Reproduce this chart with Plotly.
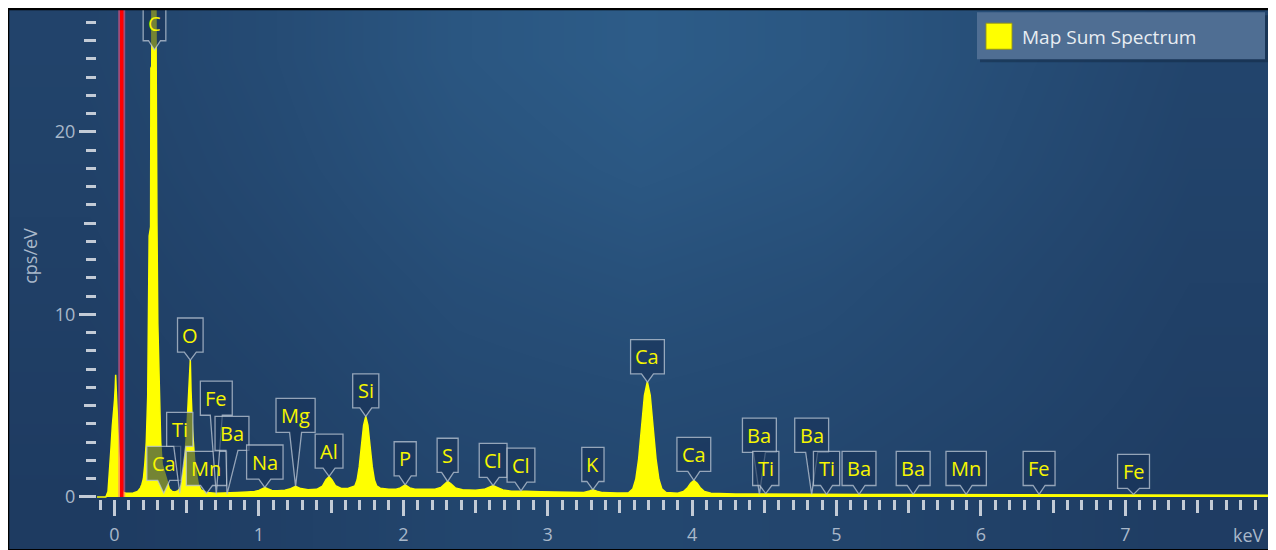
import plotly.graph_objects as go

# ---------------- data ----------------
ENERGY_KEV = [
    -0.121, -0.06, -0.045, -0.035, -0.025, -0.015, -0.005, 0.0, 0.005, 0.008, 0.012, 0.018, 0.025,
    0.032, 0.04, 0.05, 0.06, 0.08, 0.10, 0.13, 0.16, 0.18, 0.19, 0.20, 0.21, 0.22, 0.23, 0.235,
    0.24, 0.25, 0.252, 0.258, 0.26, 0.285, 0.288, 0.292, 0.294, 0.30, 0.31, 0.32, 0.33, 0.345,
    0.36, 0.38, 0.40, 0.42, 0.44, 0.452, 0.465, 0.483, 0.50, 0.511, 0.52, 0.525, 0.53, 0.541,
    0.557, 0.58, 0.60, 0.64, 0.70, 0.78, 0.85, 0.92, 0.97, 1.00, 1.02, 1.041, 1.06, 1.09, 1.13,
    1.18, 1.22, 1.254, 1.29, 1.34, 1.40, 1.44, 1.465, 1.486, 1.505, 1.53, 1.57, 1.62, 1.665,
    1.68, 1.695, 1.71, 1.725, 1.74, 1.755, 1.77, 1.785, 1.80, 1.815, 1.84, 1.90, 1.95, 1.98,
    2.013, 2.045, 2.08, 2.15, 2.22, 2.26, 2.285, 2.307, 2.33, 2.36, 2.41, 2.50, 2.56, 2.595,
    2.622, 2.65, 2.69, 2.75, 2.79, 2.815, 2.85, 2.95, 3.05, 3.15, 3.25, 3.29, 3.313, 3.34, 3.38,
    3.48, 3.56, 3.59, 3.61, 3.63, 3.65, 3.67, 3.69, 3.71, 3.73, 3.75, 3.77, 3.79, 3.82, 3.90,
    3.94, 3.97, 3.99, 4.012, 4.035, 4.055, 4.085, 4.13, 4.30, 4.47, 4.51, 4.60, 4.83, 4.93,
    5.20, 5.60, 6.00, 6.40, 6.80, 7.06, 7.50, 8.002,
]
CPS_PER_EV = [
    0.0, 0.0, 0.3, 1.3, 2.6, 3.9, 4.7, 5.3, 6.0, 6.7, 5.9, 4.6, 3.5,
    2.2, 1.1, 0.5, 0.25, 0.2, 0.2, 0.22, 0.3, 0.5, 0.7, 1.0, 1.8, 3.0, 5.5, 8.5,
    14.3, 14.8, 23.5, 23.6, 30.0, 30.0, 23.5, 23.5, 15.0, 9.5, 5.5, 3.0, 1.8, 1.35,
    0.9, 0.45, 0.3, 0.28, 0.35, 0.45, 0.7, 1.8, 3.6, 5.4, 6.9, 7.5, 5.8, 3.6,
    1.8, 0.7, 0.38, 0.25, 0.2, 0.2, 0.24, 0.27, 0.3, 0.36, 0.45, 0.52, 0.45, 0.36, 0.34,
    0.37, 0.46, 0.58, 0.46, 0.4, 0.42, 0.6, 0.95, 1.12, 0.95, 0.62, 0.47, 0.48, 0.61,
    0.93, 1.66, 2.78, 3.92, 4.42, 3.92, 2.78, 1.66, 0.93, 0.61, 0.48, 0.42, 0.42, 0.5,
    0.66, 0.5, 0.42, 0.4, 0.42, 0.52, 0.72, 0.85, 0.72, 0.5, 0.4, 0.37, 0.42, 0.54,
    0.62, 0.52, 0.38, 0.32, 0.32, 0.35, 0.31, 0.29, 0.27, 0.25, 0.25, 0.33, 0.4, 0.32, 0.24,
    0.22, 0.23, 0.45, 0.97, 2.09, 3.82, 5.57, 6.32, 5.57, 3.82, 2.09, 0.97, 0.45, 0.24, 0.2,
    0.3, 0.52, 0.75, 0.9, 0.75, 0.52, 0.3, 0.2, 0.17, 0.17, 0.18, 0.16, 0.15, 0.15,
    0.14, 0.13, 0.13, 0.14, 0.12, 0.12, 0.11, 0.1,
]

LABEL_NAMES = ["C", "O", "Ca", "Ti", "Mn", "Fe", "Ba", "Na", "Mg", "Al", "Si", "P", "S", "Cl",
               "Cl", "K", "Ca", "Ca", "Ba", "Ti", "Ba", "Ti", "Ba", "Ba", "Mn", "Fe", "Fe"]
LABEL_KEV = [0.277, 0.525, 0.341, 0.452, 0.637, 0.705, 0.779, 1.041, 1.254, 1.486, 1.740, 2.013,
             2.307, 2.622, 2.815, 3.313, 3.691, 4.012, 4.466, 4.510, 4.828, 4.931, 5.156, 5.531,
             5.898, 6.403, 7.057]
LABEL_TIP_CPS = [24.5, 7.5, 0.21, 0.21, 0.19, 0.14, 0.14, 0.52, 0.58, 1.13, 4.42, 0.67, 0.85,
                 0.62, 0.34, 0.40, 6.29, 0.91, 0.14, 0.19, 0.14, 0.14, 0.14, 0.14, 0.14, 0.14, 0.14]
LABEL_BOX_CPS = [25.0, 7.94, 0.91, 2.77, 0.63, 4.48, 2.55, 0.98, 3.54, 1.58, 4.88, 1.16, 1.35,
                 1.07, 0.81, 0.85, 6.75, 1.40, 2.45, 0.63, 2.45, 0.63, 0.63, 0.63, 0.63, 0.63, 0.47]

MARKER_KEV = [0.05]
X_TICKS = [0, 1, 2, 3, 4, 5, 6, 7]
Y_TICKS = [0, 10, 20]
SERIES_NAME = "Map Sum Spectrum"

# ---------------- layout geometry ----------------
# target positions are given in photo pixels; the page body adds an 8px margin and the
# photo comes out vertically compressed by S, so vertical positions are pre-stretched.
OFF = 8
S = 0.981
W, H = 1276 - OFF, 552


def px(wx):
    return (wx - OFF) / W


def vy(ry):
    return ry / S


def py(ry):
    return 1 - (vy(ry) - OFF) / H


def vlen(n):
    return n / S


PL, PR, PB = 97, 1271, 498
X0_PX, PX_PER_KEV = 114.5, 144.4
Y0_PX, PX_PER_CPS = 495.5, 18.2
XR = [(PL - X0_PX) / PX_PER_KEV, (PR - X0_PX) / PX_PER_KEV]
YR = [(Y0_PX - PB) / PX_PER_CPS, (vy(Y0_PX) - OFF) / vlen(PX_PER_CPS)]
KEV_PER_PX = 1 / PX_PER_KEV
CPS_PER_PX = 1 / PX_PER_CPS

TICK_COL = "#c3cbd6"
LAB_COL = "#a9b8ca"
FONT = "Open Sans"
YEL = "#ffff00"

LABEL_FONT = 20
CHAR_W = {"C": 11.4, "O": 14, "P": 10.9, "S": 9.9, "K": 11, "a": 10, "e": 10.1, "i": 4.6,
          "l": 4.6, "n": 11, "g": 9.9, "M": 16.3, "F": 9.6, "B": 11.5, "T": 10, "N": 13.8,
          "A": 11.4}
BOX_SHIFT_PX = {6: 5}

fig = go.Figure()

# background gradient
BG_Z = [
    [0.05, 0.15, 0.28, 0.33, 0.28, 0.18, 0.08],
    [0.10, 0.22, 0.38, 0.43, 0.38, 0.27, 0.13],
    [0.15, 0.30, 0.48, 0.56, 0.48, 0.33, 0.18],
    [0.20, 0.38, 0.60, 0.72, 0.62, 0.42, 0.23],
    [0.24, 0.43, 0.68, 0.82, 0.70, 0.47, 0.27],
]
fig.add_trace(go.Heatmap(z=BG_Z, x=list(range(7)), y=list(range(5)), zsmooth="best",
                         colorscale=[[0, "rgb(30,59,97)"], [1, "rgb(45,92,136)"]],
                         showscale=False, hoverinfo="skip", xaxis="x", yaxis="y"))

# spectrum
fig.add_trace(go.Scatter(x=ENERGY_KEV, y=CPS_PER_EV, mode="lines", fill="tozeroy",
                         fillcolor=YEL, line=dict(color=YEL, width=1.5),
                         name=SERIES_NAME, hoverinfo="skip", xaxis="x2", yaxis="y2"))

# red marker line
for mk in MARKER_KEV:
    fig.add_trace(go.Scatter(x=[mk, mk], y=[0, YR[1]], mode="lines",
                             line=dict(color="rgba(255,90,140,0.55)", width=7),
                             hoverinfo="skip", xaxis="x2", yaxis="y2"))
    fig.add_trace(go.Scatter(x=[mk, mk], y=[0, YR[1]], mode="lines",
                             line=dict(color="#ff0000", width=3.5),
                             hoverinfo="skip", xaxis="x2", yaxis="y2"))

# dummy traces for overlay (mid tick) axes
fig.add_trace(go.Scatter(x=[], y=[], xaxis="x3", yaxis="y2", hoverinfo="skip"))
fig.add_trace(go.Scatter(x=[], y=[], xaxis="x2", yaxis="y3", hoverinfo="skip"))

shapes = []
annotations = []

# peak labels (callout boxes)
BOX_H = 34
for i, (nm, e, tip, yb) in enumerate(zip(LABEL_NAMES, LABEL_KEV, LABEL_TIP_CPS, LABEL_BOX_CPS)):
    wpx = sum(CHAR_W.get(c, 10) for c in nm) * LABEL_FONT / 18 + 10
    cx = e + BOX_SHIFT_PX.get(i, 0) * KEV_PER_PX
    hw = wpx / 2 * KEV_PER_PX
    ph = 6 * KEV_PER_PX
    yt = yb + BOX_H * CPS_PER_PX
    path = (f"M {cx-hw},{yb} L {cx-ph},{yb} L {e},{tip} "
            f"L {cx+ph},{yb} L {cx+hw},{yb} L {cx+hw},{yt} L {cx-hw},{yt} Z")
    shapes.append(dict(type="path", path=path, xref="x2", yref="y2", layer="above",
                       fillcolor="rgba(24,50,86,0.6)",
                       line=dict(color="rgba(190,200,214,0.75)", width=1.3)))
    annotations.append(dict(x=cx, y=yb + BOX_H / 2 * CPS_PER_PX, xref="x2", yref="y2",
                            text=nm, showarrow=False, xanchor="center", yanchor="middle",
                            font=dict(family=FONT, size=LABEL_FONT, color="#f6f600")))

# outer black frame
shapes.append(dict(type="rect", xref="paper", yref="paper", x0=px(OFF), x1=px(1271),
                   y0=py(548.5), y1=1 - 1 / H, line=dict(color="black", width=2.5),
                   fillcolor="rgba(0,0,0,0)", layer="above"))

# legend
shapes.append(dict(type="rect", xref="paper", yref="paper", x0=px(980), x1=px(1268),
                   y0=py(62), y1=py(15), line=dict(width=0), fillcolor="rgba(10,25,45,0.35)",
                   layer="above"))
shapes.append(dict(type="rect", xref="paper", yref="paper", x0=px(977), x1=px(1265),
                   y0=py(59), y1=py(12), line=dict(width=0), fillcolor="#4f6e93",
                   layer="above"))
shapes.append(dict(type="rect", xref="paper", yref="paper", x0=px(986), x1=px(1012),
                   y0=py(49), y1=py(23), line=dict(color="rgba(150,150,20,0.9)", width=1),
                   fillcolor=YEL, layer="above"))
annotations.append(dict(x=px(1020), y=py(36.5), xref="paper", yref="paper", text=SERIES_NAME,
                        showarrow=False, xanchor="left", yanchor="middle",
                        font=dict(family=FONT, size=19, color="#e8edf2")))

# axis titles
annotations.append(dict(x=px(30), y=py(255), xref="paper", yref="paper", text="cps/eV",
                        textangle=-90, showarrow=False, xanchor="center", yanchor="middle",
                        font=dict(family=FONT, size=18, color=LAB_COL)))
annotations.append(dict(x=px(1266), y=py(533), xref="paper", yref="paper", text="keV",
                        showarrow=False, xanchor="right", yanchor="middle",
                        font=dict(family=FONT, size=18, color=LAB_COL)))

tickfont = dict(family=FONT, size=18, color=LAB_COL)

fig.update_layout(
    width=W, height=H, margin=dict(l=0, r=0, t=0, b=0),
    paper_bgcolor="white", plot_bgcolor="rgba(0,0,0,0)", showlegend=False,
    shapes=shapes, annotations=annotations,
    xaxis=dict(domain=[0, px(1271)], range=[-0.45, 6.45], visible=False, fixedrange=True),
    yaxis=dict(domain=[py(548.5), 1], range=[-0.45, 4.45], visible=False, fixedrange=True),
    xaxis2=dict(domain=[px(PL), px(PR)], anchor="y2", range=XR, showgrid=False,
                zeroline=False, showline=False, tickmode="array", tickvals=X_TICKS,
                ticktext=[str(t) for t in X_TICKS], ticks="outside", ticklen=vlen(15),
                tickwidth=3, tickcolor=TICK_COL, tickfont=tickfont, ticklabelstandoff=4,
                minor=dict(dtick=0.1, tick0=0, ticks="outside", ticklen=vlen(9), tickwidth=3,
                           tickcolor=TICK_COL, showgrid=False)),
    xaxis3=dict(overlaying="x2", anchor="y2", range=XR, showgrid=False, zeroline=False,
                showline=False, tick0=0.5, dtick=1, ticks="outside", ticklen=vlen(12),
                tickwidth=3, tickcolor=TICK_COL, showticklabels=False, side="bottom"),
    yaxis2=dict(domain=[py(PB), 1], anchor="x2", range=YR, showgrid=False,
                zeroline=False, showline=False, tickmode="array", tickvals=Y_TICKS,
                ticktext=[str(t) for t in Y_TICKS], ticks="outside", ticklen=17, tickwidth=3,
                tickcolor=TICK_COL, tickfont=tickfont,
                minor=dict(dtick=1, tick0=0, ticks="outside", ticklen=10, tickwidth=3,
                           tickcolor=TICK_COL, showgrid=False)),
    yaxis3=dict(overlaying="y2", anchor="x2", range=YR, showgrid=False, zeroline=False,
                showline=False, tick0=5, dtick=10, ticks="outside", ticklen=12, tickwidth=3,
                tickcolor=TICK_COL, showticklabels=False, side="left"),
)

fig.write_html("out.html")
